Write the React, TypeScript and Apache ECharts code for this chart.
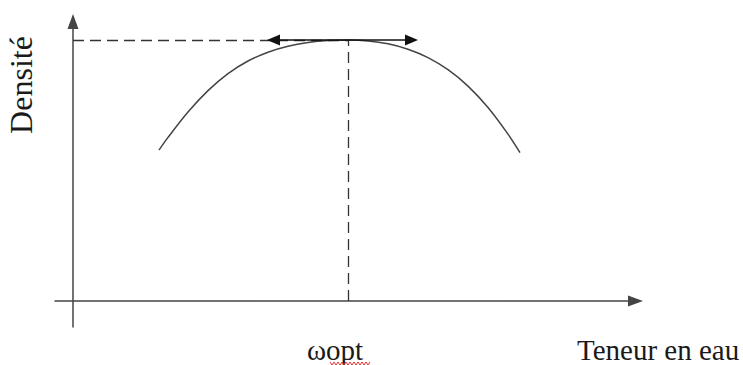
import React, { useEffect, useRef } from "react";
import * as echarts from "echarts";

// Water content (x) and density (y) in arbitrary units, origin at the axes crossing
const teneurEau = [8.6, 9.5, 11.5, 13.5, 15.5, 17.5, 19.5, 21.5, 23.5, 25.5, 27.5, 29.5, 31.5, 33.5, 35.5, 37.5, 39.5, 41.5, 43.5, 44.7];
const densite = [15.09, 16.36, 18.9, 21.04, 22.74, 24.0, 24.88, 25.47, 25.84, 26.04, 26.1, 26.01, 25.72, 25.18, 24.34, 23.13, 21.49, 19.35, 16.69, 14.84];
const wOpt = 27.5;
const densiteMax = 26.1;
const arrowFrom = 20.05;
const arrowTo = 33.85;
const xMin = -1.8;
const xMax = 56.25;
const yMin = -2.6;
const yMax = 27.95;
const labelOpt = "ωopt";
const labelX = "Teneur en eau";
const labelY = "Densité";

export default function App() {
  const ref = useRef<HTMLDivElement>(null);
  useEffect(() => {
    if (!ref.current) return;
    const chart = echarts.init(ref.current, undefined, { renderer: "svg" });
    const serif = '"Liberation Serif", "Times New Roman", serif';
    const axisStyle = { color: "#444", width: 1.5 };
    const squiggle: number[][] = [];
    for (let i = 0; i <= 20; i++) squiggle.push([330 + i * 2, i % 2 === 0 ? 362 : 365]);
    chart.setOption({
      animation: false,
      backgroundColor: "#ffffff",
      grid: { left: 55, right: 107.5, top: 21.5, bottom: 38, containLabel: false },
      xAxis: {
        type: "value",
        min: xMin,
        max: xMax,
        axisLine: { show: true, onZero: true, symbol: ["none", "triangle"], symbolSize: [11, 15], lineStyle: axisStyle },
        axisTick: { show: false },
        axisLabel: { show: false },
        splitLine: { show: false },
      },
      yAxis: {
        type: "value",
        min: yMin,
        max: yMax,
        axisLine: { show: true, onZero: true, symbol: ["none", "triangle"], symbolSize: [11, 15], lineStyle: axisStyle },
        axisTick: { show: false },
        axisLabel: { show: false },
        splitLine: { show: false },
      },
      series: [
        {
          type: "line",
          data: teneurEau.map((x, i) => [x, densite[i]]),
          smooth: 0.3,
          symbol: "none",
          showSymbol: false,
          lineStyle: { color: "#444", width: 1.5 },
          markLine: {
            silent: true,
            animation: false,
            label: { show: false },
            symbol: ["none", "none"],
            lineStyle: { type: [11, 6], color: "#333", width: 1.3 },
            emphasis: { disabled: true },
            data: [
              [{ coord: [0, densiteMax] }, { coord: [wOpt, densiteMax] }],
              [{ coord: [wOpt, 0] }, { coord: [wOpt, densiteMax] }],
              [
                { coord: [arrowFrom, densiteMax], symbol: "triangle", symbolSize: [11, 13], lineStyle: { type: "solid", color: "#111", width: 1.5 } },
                { coord: [arrowTo, densiteMax], symbol: "triangle", symbolSize: [11, 13] },
              ],
            ],
          },
        },
      ],
      graphic: [
        {
          type: "text",
          x: 21,
          y: 85,
          rotation: Math.PI / 2,
          style: { text: labelY, font: `32px ${serif}`, fill: "#1a1a1a", align: "center", verticalAlign: "middle" },
        },
        {
          type: "text",
          x: 307,
          y: 350,
          style: { text: labelOpt, font: `29px ${serif}`, fill: "#1a1a1a", align: "left", verticalAlign: "middle" },
        },
        {
          type: "text",
          x: 577,
          y: 350,
          style: { text: labelX, font: `29px ${serif}`, fill: "#1a1a1a", align: "left", verticalAlign: "middle" },
        },
        {
          type: "polyline",
          shape: { points: squiggle },
          style: { stroke: "#e03030", lineWidth: 1, fill: "none" },
        },
      ],
    });
    return () => chart.dispose();
  }, []);
  return <div ref={ref} style={{ position: "fixed", left: 0, top: 0, width: 743, height: 365 }} />;
}
